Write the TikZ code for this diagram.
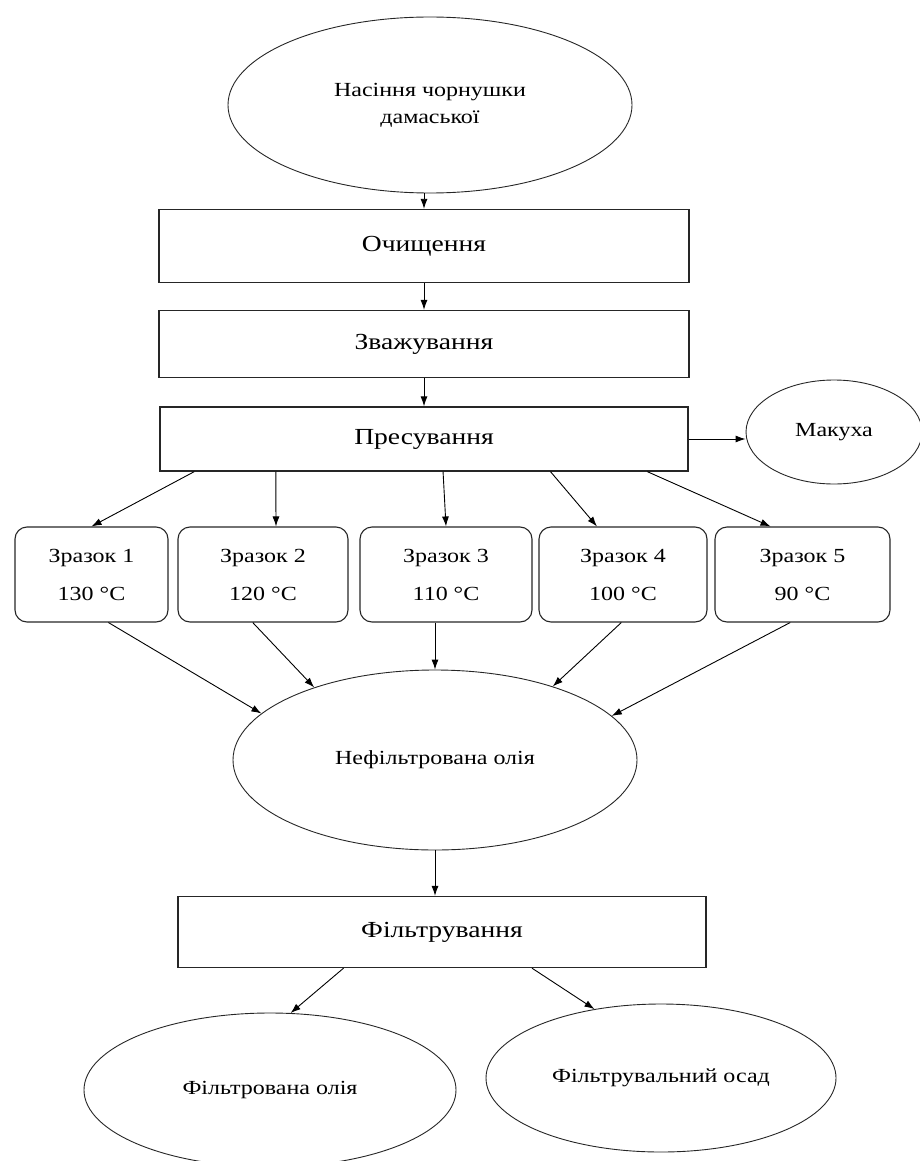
\documentclass[tikz,border=0pt]{standalone}
\usepackage{fontspec}
\setmainfont{Liberation Serif}[FakeStretch=1.2]
\usepackage{tikz}
\usetikzlibrary{calc,shapes.geometric,arrows.meta}

\tikzset{
	stage/.style={draw=black!85, line width=1.3pt, rectangle, inner sep=0pt, font=\fontsize{23}{27}\selectfont},
	sample/.style={draw=black!85, line width=1.1pt, rectangle, rounded corners=12pt, inner sep=0pt, align=center, font=\fontsize{20}{24}\selectfont},
	oval/.style={draw=black!85, line width=0.9pt, ellipse, inner sep=0pt, align=center, font=\fontsize{20}{24}\selectfont},
	arr/.style={draw=black, line width=0.9pt, -{Latex[length=10pt,width=7pt]}}
}

\begin{document}
\begin{tikzpicture}[x=1pt, y=-1pt]
			%%%%% START %%%%%
			\useasboundingbox (0, 0) rectangle (920, 1161);
			
			\node[oval, minimum width=404pt, minimum height=176pt] (seed) at (430, 105) {Насіння чорнушки\\[3pt]дамаської};
			
			\node[stage, minimum width=530pt, minimum height=73pt] (clean) at (424, 246) {Очищення};
			\node[stage, minimum width=530pt, minimum height=67pt] (weigh) at (424, 344) {Зважування};
			\node[stage, minimum width=528pt, minimum height=64pt] (press) at (424, 439) {Пресування};
			\node[oval, minimum width=176pt, minimum height=104pt] (cake) at (834, 432) {Макуха};
			
			\node[sample, minimum width=153pt, minimum height=95pt] (s1) at (91.5, 574.5) {Зразок 1\\[14pt]130 °C};
			\node[sample, minimum width=170pt, minimum height=95pt] (s2) at (263, 574.5) {Зразок 2\\[14pt]120 °C};
			\node[sample, minimum width=172pt, minimum height=95pt] (s3) at (446, 574.5) {Зразок 3\\[14pt]110 °C};
			\node[sample, minimum width=168pt, minimum height=95pt] (s4) at (623, 574.5) {Зразок 4\\[14pt]100 °C};
			\node[sample, minimum width=175pt, minimum height=95pt] (s5) at (802.5, 574.5) {Зразок 5\\[14pt]90 °C};
			
			\node[oval, minimum width=404pt, minimum height=180pt] (rawoil) at (435, 760) {Нефільтрована олія};
			\node[stage, minimum width=528pt, minimum height=71pt] (filter) at (442, 932) {Фільтрування};
			\node[oval, minimum width=372pt, minimum height=154pt] (oil) at (270, 1090) {Фільтрована олія};
			\node[oval, minimum width=350pt, minimum height=148pt] (sludge) at (661, 1078) {Фільтрувальний осад};
			
			\draw[arr] (seed.south -| clean.north) -- (clean.north);
			\draw[arr] (clean.south) -- (weigh.north);
			\draw[arr] (weigh.south) -- (press.north);
			\draw[arr] (press.east) -- (press.east -| cake.west);
			
			\draw[arr] ($(press.south west)!0.066!(press.south east)$) -- (s1.north);
			\draw[arr] ($(press.south west)!0.22!(press.south east)$) -- ([xshift=13pt]s2.north);
			\draw[arr] ($(press.south west)!0.536!(press.south east)$) -- (s3.north);
			\draw[arr] ($(press.south west)!0.739!(press.south east)$) -- ([xshift=-26pt]s4.north);
			\draw[arr] ($(press.south west)!0.922!(press.south east)$) -- ([xshift=-32pt]s5.north);
			
			\draw[arr] ($(s1.south west)!0.61!(s1.south east)$) -- (rawoil.165.5);
			\draw[arr] ($(s2.south west)!0.44!(s2.south east)$) -- (rawoil.149.5);
			\draw[arr] (s3.south -| rawoil.north) -- (rawoil.north);
			\draw[arr] ($(s4.south west)!0.49!(s4.south east)$) -- (rawoil.32);
			\draw[arr] ($(s5.south west)!0.43!(s5.south east)$) -- (rawoil.14);
			
			\draw[arr] (rawoil.south) -- (rawoil.south |- filter.north);
			\draw[arr] ($(filter.south west)!0.314!(filter.south east)$) -- (oil.75.4);
			\draw[arr] ($(filter.south west)!0.67!(filter.south east)$) -- (sludge.134);
			%%%%% END %%%%%
\end{tikzpicture}
\end{document}
